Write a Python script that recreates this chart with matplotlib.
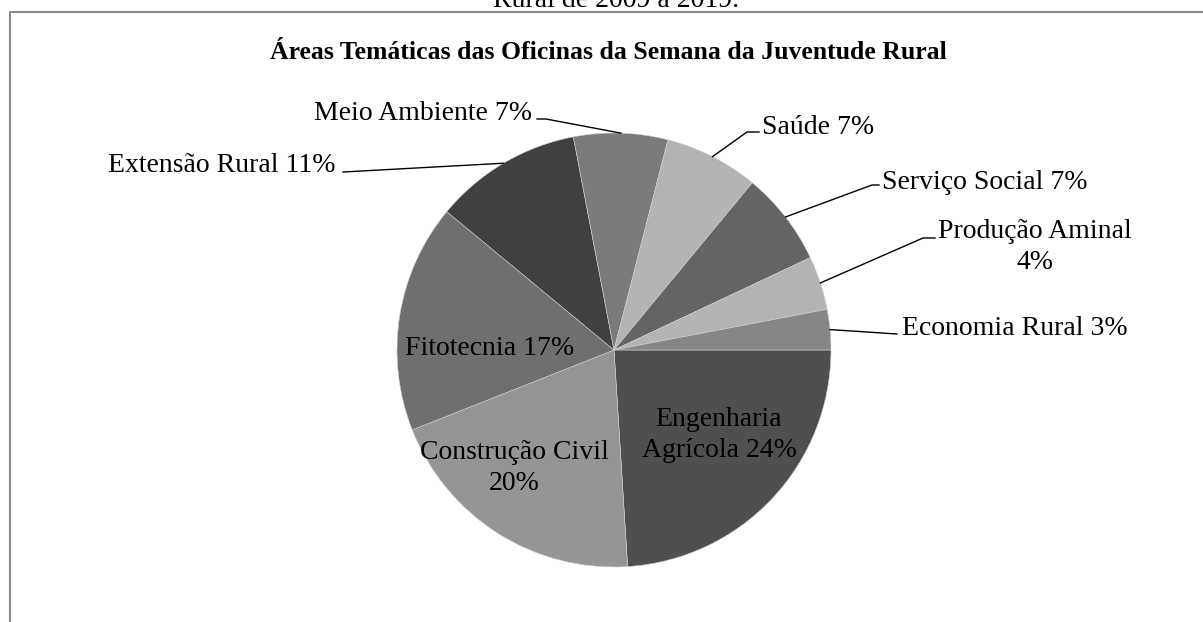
import numpy as np
import matplotlib.pyplot as plt

plt.rcParams["font.family"] = ["Liberation Serif", "DejaVu Serif"]

# slices, clockwise from 3 o'clock
areas = ["Engenharia\nAgrícola", "Construção Civil\n", "Fitotecnia", "Extensão Rural",
         "Meio Ambiente", "Saúde", "Serviço Social", "Produção Aminal\n", "Economia Rural"]
percent = [24, 20, 17, 11, 7, 7, 7, 4, 3]
title = "Áreas Temáticas das Oficinas da Semana da Juventude Rural"
caption = "Rural de 2009 a 2019."

colors = ["#4f4f4f", "#959595", "#6f6f6f", "#404040", "#7b7b7b",
          "#b4b4b4", "#646464", "#b4b4b4", "#868686"]

W, H = 1203, 622
fig = plt.figure(figsize=(W / 100, H / 100), dpi=100)
ax = fig.add_axes([0, 0, 1, 1])

cx, cy, r = 614, 350, 217
# y axis is inverted later, so counterclock=True reads clockwise on screen
wedges, _ = ax.pie(percent, colors=colors, startangle=0, counterclock=True,
                   center=(cx, cy), radius=r,
                   wedgeprops=dict(edgecolor="#d0d0d0", linewidth=0.4))
ax.set_xlim(0, W)
ax.set_ylim(H, 0)
ax.set_aspect("equal")
ax.axis("off")

fs = 20
# label placement: (x, baseline y of last line, ha, leader path after the pie edge point or None)
place = [
    (719, 457, "center", None),
    (514, 490, "center", None),
    (490, 355, "center", None),
    (336, 172, "right", [(343, 172)]),
    (532, 120, "right", [(546, 119), (537, 119)]),
    (762, 134, "left", [(747, 132), (759, 132)]),
    (882, 189, "left", [(872, 185), (879, 185)]),
    (1035, 269, "center", [(923, 238), (935, 238)]),
    (902, 335, "left", [(897, 334)]),
]

for w, name, p, (tx, ty, ha, path) in zip(wedges, areas, percent, place):
    sep = "" if name.endswith("\n") else " "
    label = f"{name}{sep}{p}%"
    ax.text(tx, ty, label, fontsize=fs, ha=ha, va="baseline",
            multialignment="center", linespacing=1.3)
    if path:
        mid = np.deg2rad((w.theta1 + w.theta2) / 2)
        ex, ey = cx + r * np.cos(mid), cy + r * np.sin(mid)
        xs = [ex] + [q[0] for q in path]
        ys = [ey] + [q[1] for q in path]
        ax.plot(xs, ys, color="black", lw=1.0)

ax.text(608, 59, title, fontsize=18.5, fontweight="bold", ha="center", va="baseline")
ax.text(616, 7, caption, fontsize=fs, ha="center", va="baseline", clip_on=False)

# chart frame (left and top edges visible)
ax.plot([10, 10, W], [H, 12, 12], color="#8a8a8a", lw=1.5, clip_on=False)

fig.savefig("out.png", dpi=100)
